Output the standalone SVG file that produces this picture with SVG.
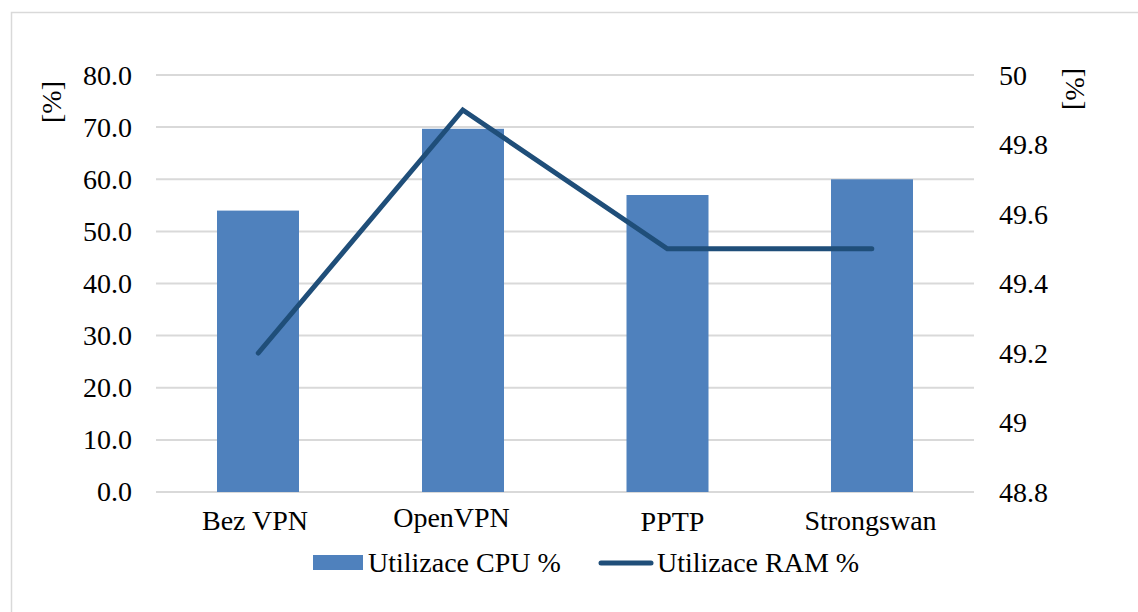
<svg xmlns="http://www.w3.org/2000/svg" width="1138" height="612" viewBox="0 0 1138 612">
<style>
text{font-family:'Liberation Serif','Times New Roman',Tinos,'Noto Serif','DejaVu Serif',serif;font-size:28px;fill:#000}
.grid{stroke:#D9D9D9;stroke-width:2}
.bar{fill:#4F81BD}
.ram{fill:none;stroke:#1F4E79;stroke-width:5;stroke-linejoin:miter;stroke-linecap:round}
.l{text-anchor:end}
.m{text-anchor:middle}
</style>
<rect x="0" y="0" width="1138" height="612" fill="#fff"/>
<rect x="11.5" y="12.5" width="1140" height="620" fill="none" stroke="#D9D9D9" stroke-width="1.5"/>
<g id="gridlines">
<line class="grid" x1="156" y1="75" x2="974" y2="75"/>
<line class="grid" x1="156" y1="127.1" x2="974" y2="127.1"/>
<line class="grid" x1="156" y1="179.3" x2="974" y2="179.3"/>
<line class="grid" x1="156" y1="231.4" x2="974" y2="231.4"/>
<line class="grid" x1="156" y1="283.5" x2="974" y2="283.5"/>
<line class="grid" x1="156" y1="335.6" x2="974" y2="335.6"/>
<line class="grid" x1="156" y1="387.8" x2="974" y2="387.8"/>
<line class="grid" x1="156" y1="439.9" x2="974" y2="439.9"/>
<line class="grid" x1="156" y1="492" x2="974" y2="492"/>
</g>
<g font-family="Liberation Serif, serif">
<g id="left-axis">
<text class="l" x="132" y="85">80.0</text>
<text class="l" x="132" y="137">70.0</text>
<text class="l" x="132" y="189">60.0</text>
<text class="l" x="132" y="241">50.0</text>
<text class="l" x="132" y="293">40.0</text>
<text class="l" x="132" y="345">30.0</text>
<text class="l" x="132" y="397">20.0</text>
<text class="l" x="132" y="449">10.0</text>
<text class="l" x="132" y="501">0.0</text>
<text class="m" transform="translate(61,102) rotate(-90)">[%]</text>
</g>
<g id="right-axis">
<text x="999" y="85">50</text>
<text x="999" y="154">49.8</text>
<text x="999" y="224">49.6</text>
<text x="999" y="293">49.4</text>
<text x="999" y="363">49.2</text>
<text x="999" y="432">49</text>
<text x="999" y="502">48.8</text>
<text class="m" transform="translate(1066,89) rotate(90)">[%]</text>
</g>
</g>
<g id="bar-bez-vpn"><rect class="bar" x="217" y="210.6" width="82" height="281.4"/></g>
<g id="bar-openvpn"><rect class="bar" x="422" y="128.8" width="82" height="363.2"/></g>
<g id="bar-pptp"><rect class="bar" x="626.5" y="195" width="82" height="297"/></g>
<g id="bar-strongswan"><rect class="bar" x="831" y="179.3" width="82" height="312.7"/></g>
<g id="connectors">
<polyline class="ram" points="258.3,353 462.8,110 667.3,248.8 871.8,248.8"/>
</g>
<g id="categories">
<text class="m" x="255" y="530">Bez VPN</text>
<text class="m" x="451.5" y="527">OpenVPN</text>
<text class="m" x="672.5" y="531">PPTP</text>
<text class="m" x="870.5" y="530">Strongswan</text>
</g>
<g id="legend">
<rect class="bar" x="313" y="555" width="50" height="15"/>
<text x="368" y="572">Utilizace CPU %</text>
<line x1="601" y1="563" x2="651" y2="563" stroke="#1F4E79" stroke-width="5" stroke-linecap="round"/>
<text x="657" y="572">Utilizace RAM %</text>
</g>
</svg>
